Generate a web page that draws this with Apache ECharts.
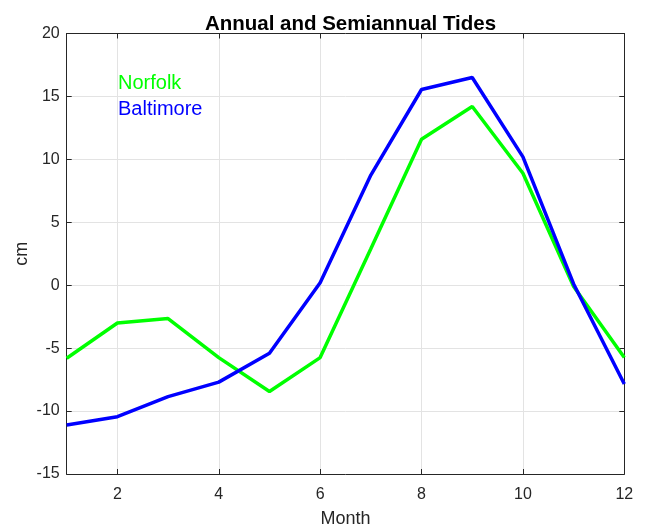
<!DOCTYPE html>
<html>
<head>
<meta charset="utf-8">
<script src="https://cdn.jsdelivr.net/npm/echarts@6/dist/echarts.min.js"></script>
<style>html,body{margin:0;padding:0;background:#fff}#c{width:646px;height:526px}</style>
</head>
<body>
<div id="c"></div>
<script>
var months = [1, 2, 3, 4, 5, 6, 7, 8, 9, 10, 11, 12];
var norfolk = [-5.8, -3.0, -2.65, -5.75, -8.45, -5.75, 2.9, 11.6, 14.2, 8.9, -0.1, -5.75];
var baltimore = [-11.1, -10.45, -8.85, -7.7, -5.4, 0.2, 8.75, 15.55, 16.5, 10.2, 0.1, -7.85];
var xTicks = [2, 4, 6, 8, 10, 12];
var seriesNames = ['Norfolk', 'Baltimore'];

var FONT = '"Liberation Sans", Arial, sans-serif';
var AX = '#262626';
function pairs(v) { return months.map(function (m, i) { return [m, v[i]]; }); }

var chart = echarts.init(document.getElementById('c'), null, { renderer: 'canvas' });
var tickStyle = { show: true, inside: true, length: 5, lineStyle: { color: AX, width: 1 } };
chart.setOption({
  animation: false,
  backgroundColor: '#fff',
  title: {
    text: 'Annual and Semiannual Tides',
    left: 345.5, top: 9, textAlign: 'center',
    textStyle: { fontFamily: FONT, fontSize: 20.5, fontWeight: 'bold', color: '#000' }
  },
  grid: { left: 66.7, top: 33.5, right: 21.7, bottom: 52, containLabel: false, outerBoundsMode: 'none' },
  xAxis: [{
    type: 'value', min: 1, max: 12, position: 'bottom',
    name: 'Month', nameLocation: 'middle', nameGap: 36, nameMoveOverlap: false,
    nameTextStyle: { fontFamily: FONT, fontSize: 18, color: AX },
    axisLine: { show: true, onZero: false, lineStyle: { color: AX, width: 1 } },
    axisTick: Object.assign({ customValues: xTicks }, tickStyle),
    axisLabel: { customValues: xTicks, margin: 13, fontFamily: FONT, fontSize: 16, color: AX },
    splitLine: { show: true, lineStyle: { color: '#e3e3e3', width: 1 } }
  }, {
    type: 'value', min: 1, max: 12, position: 'top',
    axisLine: { show: true, onZero: false, lineStyle: { color: AX, width: 1 } },
    axisTick: Object.assign({ customValues: xTicks }, tickStyle),
    axisLabel: { show: false, customValues: xTicks },
    splitLine: { show: false }
  }],
  yAxis: [{
    type: 'value', min: -15, max: 20, interval: 5, position: 'left',
    name: 'cm', nameLocation: 'middle', nameGap: 36, nameMoveOverlap: false,
    nameTextStyle: { fontFamily: FONT, fontSize: 18, color: AX },
    axisLine: { show: true, onZero: false, lineStyle: { color: AX, width: 1 } },
    axisTick: tickStyle,
    axisLabel: { margin: 7, fontFamily: FONT, fontSize: 16, color: AX },
    splitLine: { show: true, lineStyle: { color: '#e3e3e3', width: 1 } }
  }, {
    type: 'value', min: -15, max: 20, interval: 5, position: 'right',
    axisLine: { show: true, onZero: false, lineStyle: { color: AX, width: 1 } },
    axisTick: tickStyle,
    axisLabel: { show: false },
    splitLine: { show: false }
  }],
  series: [{
    name: seriesNames[0], type: 'line', data: pairs(norfolk),
    showSymbol: false, symbol: 'none', lineStyle: { color: '#00ff00', width: 3.5 }, z: 3
  }, {
    name: seriesNames[1], type: 'line', data: pairs(baltimore),
    showSymbol: false, symbol: 'none', lineStyle: { color: '#0000ff', width: 3.5 }, z: 4
  }],
  graphic: [
    { type: 'text', left: 118, top: 73, style: { text: seriesNames[0], fill: '#00ff00', font: '20px ' + FONT } },
    { type: 'text', left: 118, top: 99, style: { text: seriesNames[1], fill: '#0000ff', font: '20px ' + FONT } }
  ]
});
</script>
</body>
</html>
